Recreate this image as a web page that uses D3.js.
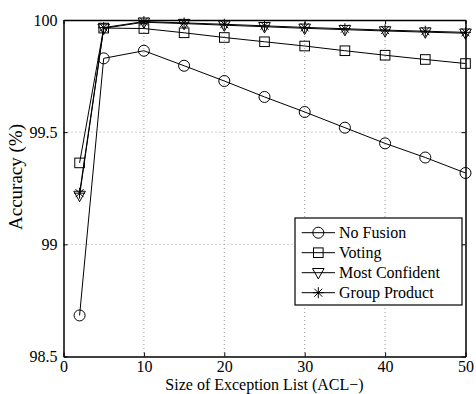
<html>
<head>
<style>
  body { margin: 0; background: #fff; }
  text { font-family: "Liberation Serif", "Times New Roman", serif; fill: #000; }
</style>
</head>
<body>
<svg id="chart" width="476" height="394"></svg>
<script src="https://cdn.jsdelivr.net/npm/d3@7"></script>
<script>
// list sizes on the x axis
let sizes = [2, 5, 10, 15, 20, 25, 30, 35, 40, 45, 50]
let noFusion      = [98.683, 99.829, 99.863, 99.796, 99.728, 99.657, 99.59, 99.52, 99.45, 99.387, 99.318]
let voting        = [99.363, 99.964, 99.962, 99.943, 99.922, 99.903, 99.884, 99.863, 99.843, 99.824, 99.806]
let mostConfident = [99.218, 99.963, 99.99, 99.984, 99.977, 99.97, 99.963, 99.957, 99.951, 99.946, 99.941]
let groupProduct  = [99.228, 99.966, 99.993, 99.987, 99.981, 99.974, 99.967, 99.961, 99.955, 99.95, 99.945]
let xTicks = [0, 10, 20, 30, 40, 50]
let yTicks = [98.5, 99, 99.5, 100]
let seriesNames = ["No Fusion", "Voting", "Most Confident", "Group Product"]
let seriesMarkers = ["circle", "square", "triangle", "star"]

let svg = d3.select("#chart")
let pLeft = 63.5, pRight = 465.5, pTop = 20, pBottom = 356.5

let x = d3.scaleLinear().domain([0, 50]).range([pLeft, pRight])
let y = d3.scaleLinear().domain([98.5, 100]).range([pBottom, pTop])

// dotted grid
let grid = svg.append("g").attr("stroke", "#999").attr("stroke-width", 1).attr("stroke-dasharray", "1,3")
grid.selectAll(".gx").data(xTicks.slice(1, -1)).enter().append("line")
    .attr("x1", d => x(d)).attr("x2", d => x(d)).attr("y1", pTop).attr("y2", pBottom)
grid.selectAll(".gy").data(yTicks.slice(1, -1)).enter().append("line")
    .attr("y1", d => y(d)).attr("y2", d => y(d)).attr("x1", pLeft).attr("x2", pRight)

// axes with inward ticks on all four sides
let fs = 16
svg.append("g").attr("transform", `translate(0,${pBottom})`)
    .call(d3.axisBottom(x).tickValues(xTicks).tickSizeInner(-4).tickSizeOuter(0).tickPadding(4.5))
svg.append("g").attr("transform", `translate(0,${pTop})`)
    .call(d3.axisTop(x).tickValues(xTicks).tickSizeInner(-4).tickSizeOuter(0).tickFormat(""))
svg.append("g").attr("transform", `translate(${pLeft},0)`)
    .call(d3.axisLeft(y).tickValues(yTicks).tickSizeInner(-4).tickSizeOuter(0).tickPadding(6).tickFormat(d3.format("")))
svg.append("g").attr("transform", `translate(${pRight},0)`)
    .call(d3.axisRight(y).tickValues(yTicks).tickSizeInner(-4).tickSizeOuter(0).tickFormat(""))
svg.selectAll(".tick text").attr("font-size", fs).attr("font-family", "Liberation Serif")
svg.selectAll(".domain").attr("stroke-width", 1.5)
svg.selectAll(".tick line").attr("stroke-width", 1)

svg.append("text").attr("x", (pLeft + pRight) / 2).attr("y", 390)
    .attr("text-anchor", "middle").attr("font-size", fs).text("Size of Exception List (ACL\u2212)")
svg.append("text").attr("transform", "translate(22,177) rotate(-90)")
    .attr("text-anchor", "middle").attr("font-size", 19).text("Accuracy (%)")

function marker(g, type) {
    if (type == "circle") {
        g.append("circle").attr("r", 5.5)
    } else if (type == "square") {
        g.append("rect").attr("x", -4.8).attr("y", -4.8).attr("width", 9.6).attr("height", 9.6)
    } else if (type == "triangle") {
        g.append("path").attr("d", "M-5.8,-4.2L5.8,-4.2L0,6.2Z")
    } else {
        g.append("path").attr("d", "M0,-5.5V5.5M-5.5,0H5.5M-4,-4L4,4M-4,4L4,-4")
    }
}

let allSeries = [noFusion, voting, mostConfident, groupProduct]
let line = d3.line().x(d => x(d[0])).y(d => y(d[1]))

allSeries.forEach((vals, i) => {
    let pts = sizes.map((s, j) => [s, vals[j]])
    let g = svg.append("g").attr("fill", "none").attr("stroke", "#000").attr("stroke-width", 1)
    g.append("path").attr("d", line(pts))
    g.selectAll(".m").data(pts).enter().append("g")
        .attr("transform", d => `translate(${x(d[0])},${y(d[1])})`)
        .each(function () { marker(d3.select(this), seriesMarkers[i]) })
})

// legend
let lg = svg.append("g").attr("transform", "translate(295,218)")
lg.append("rect").attr("width", 167).attr("height", 87).attr("fill", "#fff").attr("stroke", "#000").attr("stroke-width", 1.2)
seriesNames.forEach((name, i) => {
    let row = lg.append("g").attr("transform", `translate(0,${14.7 + i * 20})`)
    row.append("line").attr("x1", 6.7).attr("x2", 40).attr("stroke", "#000")
    let m = row.append("g").attr("transform", "translate(23.3,0)").attr("fill", "none").attr("stroke", "#000")
    marker(m, seriesMarkers[i])
    row.append("text").attr("x", 44).attr("y", 5.5).attr("font-size", fs).text(name)
})
</script>
</body>
</html>
